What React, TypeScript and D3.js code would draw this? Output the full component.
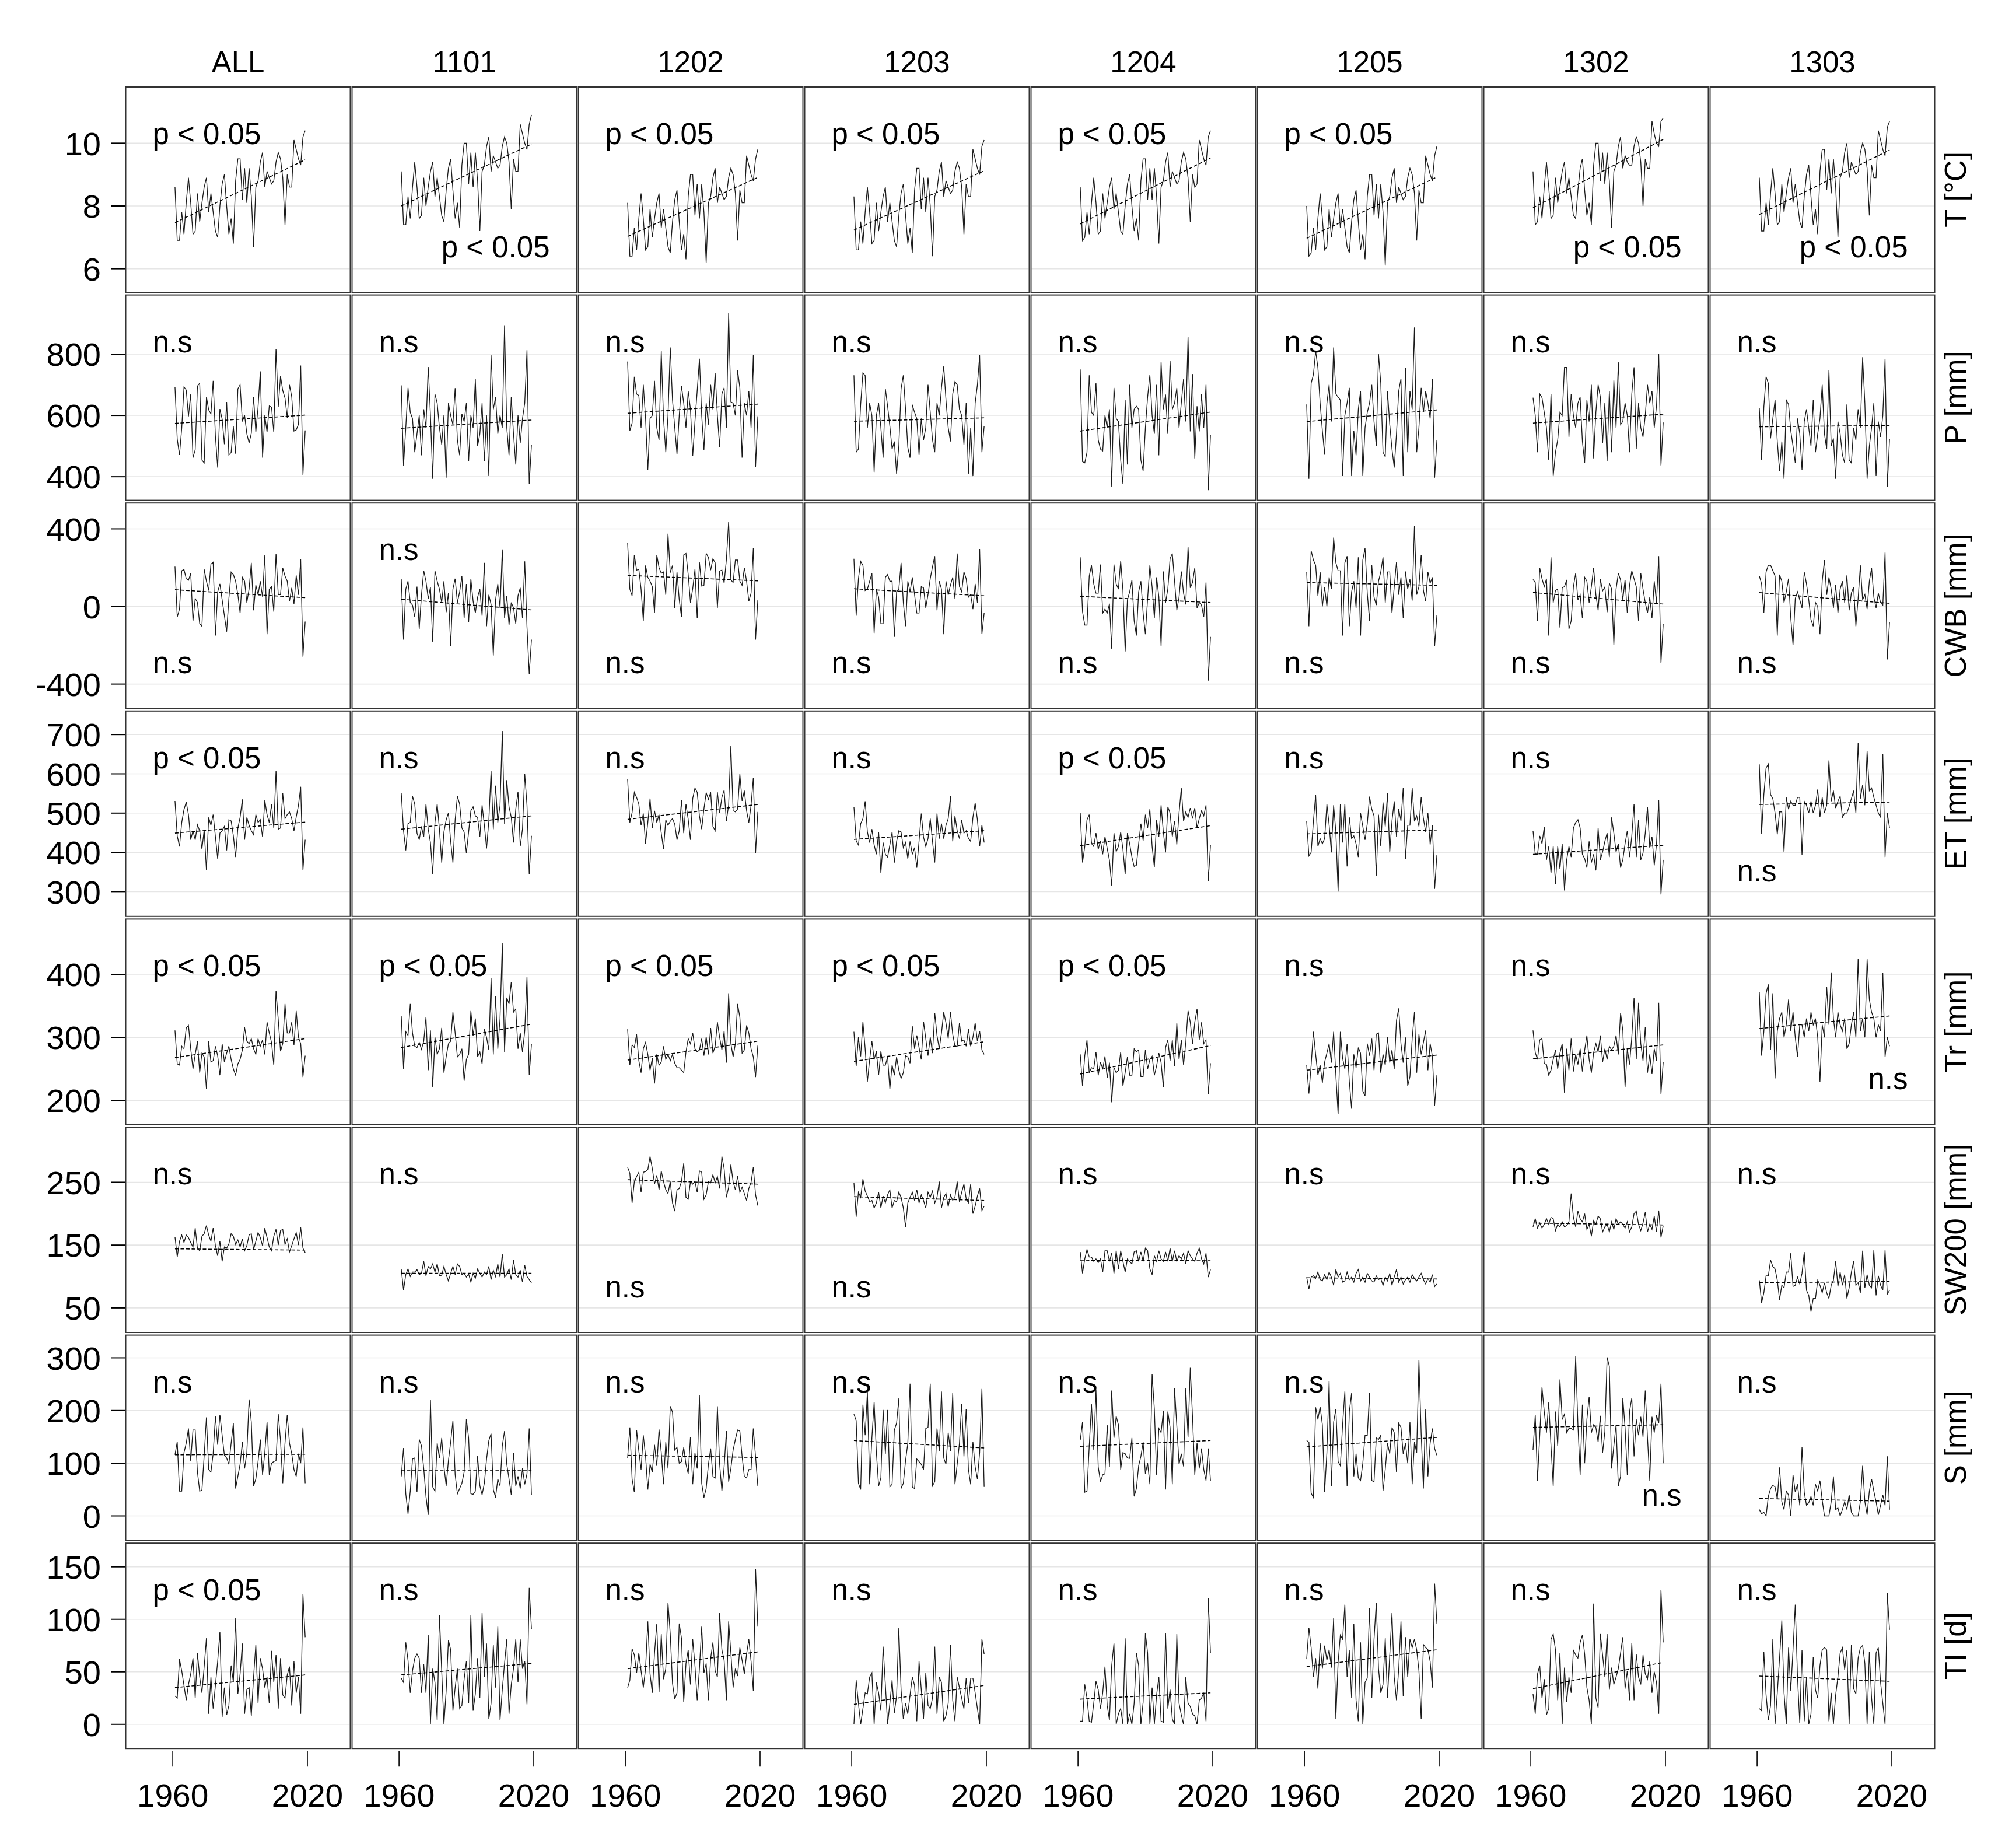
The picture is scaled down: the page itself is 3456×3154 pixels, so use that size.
import React from 'react';
import * as d3 from 'd3';

// ---------------- DATA ----------------
const COLUMNS = ['ALL', '1101', '1202', '1203', '1204', '1205', '1302', '1303'];
const VARIABLES = ['T [°C]', 'P [mm]', 'CWB [mm]', 'ET [mm]', 'Tr [mm]', 'SW200 [mm]', 'S [mm]', 'TI [d]'];
const FIRST_YEAR = 1961;
const X_TICKS = [1960, 2020];

const Y_TICKS = [
  [6, 8, 10],
  [400, 600, 800],
  [-400, 0, 400],
  [300, 400, 500, 600, 700],
  [200, 300, 400],
  [50, 150, 250],
  [0, 100, 200, 300],
  [0, 50, 100, 150],
];
const Y_DOMAINS = [
  [5.25, 11.79],
  [323, 993],
  [-525, 533],
  [237, 760],
  [162, 487.5],
  [10.9, 337.7],
  [-46.6, 343],
  [-23, 172.5],
];

// ---- T [°C]
const T_ALL = [8.6, 6.9, 6.9, 7.8, 7.1, 8.1, 8.9, 8.1, 7.1, 7.2,
  8.4, 7.5, 8.1, 8.6, 8.9, 7.8, 8.4, 7.8, 7.2, 7.0,
  8.0, 8.7, 9.0, 8.0, 7.1, 7.6, 6.8, 8.8, 9.5, 9.5,
  8.2, 9.2, 8.1, 9.2, 8.3, 6.7, 8.6, 8.8, 9.4, 9.7,
  8.6, 9.1, 8.9, 8.7, 8.8, 9.4, 9.7, 9.5, 8.9, 7.4,
  9.0, 8.6, 8.6, 10.1, 9.8, 9.5, 9.3, 10.2, 10.4];
const T_1101 = [9.1, 7.4, 7.4, 8.3, 7.6, 8.6, 9.4, 8.6, 7.6, 7.7,
  8.9, 8.0, 8.6, 9.1, 9.4, 8.3, 8.9, 8.3, 7.7, 7.5,
  8.5, 9.2, 9.5, 8.5, 7.6, 8.1, 7.3, 9.3, 10.0, 10.0,
  8.7, 9.7, 8.6, 9.7, 8.8, 7.2, 9.1, 9.3, 9.9, 10.2,
  9.1, 9.6, 9.4, 9.2, 9.3, 9.9, 10.2, 10.0, 9.4, 7.9,
  9.5, 9.1, 9.1, 10.6, 10.3, 10.0, 9.8, 10.6, 10.9];
const T_1202 = [8.1, 6.4, 6.4, 7.3, 6.6, 7.6, 8.4, 7.6, 6.6, 6.7,
  7.9, 7.0, 7.6, 8.1, 8.4, 7.3, 7.9, 7.3, 6.7, 6.5,
  7.5, 8.2, 8.5, 7.5, 6.6, 7.1, 6.3, 8.3, 9.0, 9.0,
  7.7, 8.7, 7.6, 8.7, 7.8, 6.2, 8.1, 8.3, 8.9, 9.2,
  8.1, 8.6, 8.4, 8.2, 8.3, 8.9, 9.2, 9.0, 8.4, 6.9,
  8.5, 8.1, 8.1, 9.6, 9.3, 9.0, 8.8, 9.5, 9.8];
const T_1203 = [8.3, 6.6, 6.6, 7.5, 6.8, 7.8, 8.6, 7.8, 6.8, 6.9,
  8.1, 7.2, 7.8, 8.3, 8.6, 7.5, 8.1, 7.5, 6.9, 6.7,
  7.7, 8.4, 8.7, 7.7, 6.8, 7.3, 6.5, 8.5, 9.2, 9.2,
  7.9, 8.9, 7.8, 8.9, 8.0, 6.4, 8.3, 8.5, 9.1, 9.4,
  8.3, 8.8, 8.6, 8.4, 8.5, 9.1, 9.4, 9.2, 8.6, 7.1,
  8.7, 8.3, 8.3, 9.8, 9.5, 9.2, 9.0, 9.9, 10.1];
const T_1204 = [8.6, 6.9, 7.0, 7.8, 7.1, 8.1, 8.9, 8.1, 7.1, 7.2,
  8.4, 7.6, 8.1, 8.6, 8.9, 7.9, 8.4, 7.8, 7.2, 7.1,
  8.0, 8.7, 9.0, 8.0, 7.2, 7.6, 6.9, 8.8, 9.5, 9.5,
  8.2, 9.2, 8.2, 9.2, 8.3, 6.8, 8.6, 8.8, 9.4, 9.7,
  8.6, 9.1, 8.9, 8.7, 8.8, 9.4, 9.7, 9.5, 8.9, 7.5,
  9.0, 8.6, 8.7, 10.1, 9.8, 9.5, 9.3, 10.2, 10.4];
const T_1205 = [8.0, 6.4, 6.5, 7.3, 6.6, 7.6, 8.4, 7.6, 6.6, 6.7,
  7.9, 7.0, 7.6, 8.1, 8.4, 7.3, 7.9, 7.3, 6.7, 6.5,
  7.5, 8.2, 8.5, 7.5, 6.6, 7.1, 6.3, 8.3, 9.0, 9.0,
  7.7, 8.7, 7.6, 8.7, 7.8, 6.1, 8.1, 8.3, 8.9, 9.2,
  8.1, 8.6, 8.4, 8.2, 8.3, 8.9, 9.2, 9.0, 8.4, 6.9,
  8.5, 8.1, 8.1, 9.6, 9.3, 9.0, 8.8, 9.6, 9.9];
const T_1302 = [9.1, 7.4, 7.5, 8.3, 7.6, 8.6, 9.4, 8.6, 7.6, 7.7,
  8.9, 8.1, 8.6, 9.1, 9.4, 8.4, 8.9, 8.3, 7.7, 7.6,
  8.5, 9.2, 9.5, 8.5, 7.7, 8.1, 7.4, 9.3, 10.0, 10.0,
  8.8, 9.7, 8.7, 9.7, 8.8, 7.3, 9.1, 9.3, 9.9, 10.2,
  9.2, 9.6, 9.4, 9.3, 9.3, 9.9, 10.2, 10.0, 9.4, 8.0,
  9.5, 9.2, 9.2, 10.7, 10.3, 10.0, 9.9, 10.7, 10.8];
const T_1303 = [8.9, 7.2, 7.2, 8.1, 7.4, 8.4, 9.2, 8.4, 7.4, 7.5,
  8.7, 7.8, 8.4, 8.9, 9.2, 8.1, 8.7, 8.1, 7.5, 7.3,
  8.3, 9.0, 9.3, 8.3, 7.4, 7.9, 7.1, 9.1, 9.8, 9.8,
  8.5, 9.5, 8.4, 9.5, 8.6, 7.0, 8.9, 9.1, 9.7, 10.0,
  8.9, 9.4, 9.2, 9.0, 9.1, 9.7, 10.0, 9.8, 9.2, 7.7,
  9.3, 8.9, 8.9, 10.4, 10.1, 9.8, 9.6, 10.5, 10.7];

// ---- P [mm]
const P_ALL = [693, 523, 471, 558, 693, 683, 597, 670, 462, 488,
  696, 705, 454, 445, 661, 618, 605, 713, 532, 430,
  621, 588, 506, 644, 471, 479, 564, 475, 687, 700,
  580, 601, 540, 510, 542, 661, 545, 627, 744, 462,
  600, 545, 631, 627, 545, 817, 627, 729, 681, 657,
  592, 700, 661, 549, 553, 571, 763, 406, 551];
const P_1101 = [698, 435, 560, 690, 610, 590, 480, 540, 600, 470,
  620, 560, 758, 600, 393, 670, 640, 560, 505, 600,
  397, 640, 600, 570, 689, 520, 470, 605, 580, 640,
  450, 600, 560, 718, 500, 540, 640, 450, 600, 402,
  796, 620, 660, 540, 600, 560, 894, 560, 470, 660,
  540, 440, 600, 510, 590, 640, 813, 376, 504];
const P_1202 = [776, 550, 575, 726, 670, 665, 560, 700, 590, 423,
  590, 600, 713, 560, 520, 810, 590, 480, 600, 822,
  650, 560, 473, 600, 696, 640, 560, 680, 620, 467,
  580, 680, 785, 600, 488, 640, 570, 700, 620, 739,
  600, 497, 670, 690, 560, 934, 644, 640, 600, 748,
  690, 462, 640, 600, 680, 560, 796, 432, 597];
const P_1203 = [731, 480, 490, 636, 739, 730, 560, 640, 600, 415,
  600, 640, 560, 462, 687, 630, 565, 490, 515, 410,
  501, 687, 731, 620, 495, 462, 635, 610, 590, 471,
  590, 520, 560, 700, 610, 520, 480, 640, 600, 690,
  761, 650, 560, 515, 670, 710, 700, 620, 600, 505,
  640, 410, 560, 402, 640, 700, 796, 480, 565];
const P_1204 = [750, 449, 445, 480, 731, 610, 600, 705, 520, 490,
  484, 600, 560, 620, 368, 690, 590, 580, 454, 376,
  650, 440, 700, 560, 620, 630, 620, 454, 419, 560,
  660, 733, 600, 540, 700, 470, 774, 620, 668, 540,
  778, 620, 640, 690, 560, 640, 720, 580, 856, 548,
  735, 460, 630, 548, 670, 560, 700, 356, 536];
const P_1205 = [636, 393, 705, 733, 810, 756, 640, 550, 472, 640,
  700, 580, 822, 670, 660, 650, 402, 600, 640, 690,
  402, 550, 470, 620, 680, 402, 560, 610, 640, 700,
  580, 500, 800, 705, 480, 465, 680, 570, 490, 430,
  540, 680, 720, 402, 756, 480, 680, 620, 887, 480,
  560, 690, 610, 680, 640, 590, 720, 397, 519];
const P_1302 = [658, 600, 480, 670, 658, 610, 560, 454, 670, 402,
  480, 520, 610, 600, 757, 757, 530, 670, 600, 560,
  640, 660, 515, 445, 650, 580, 700, 460, 610, 700,
  660, 510, 640, 450, 680, 480, 714, 560, 774, 570,
  580, 640, 600, 480, 670, 757, 490, 640, 560, 530,
  600, 700, 640, 680, 560, 630, 800, 437, 577];
const P_1303 = [625, 454, 627, 726, 705, 525, 590, 650, 515, 419,
  515, 393, 650, 636, 550, 500, 445, 590, 540, 423,
  580, 620, 560, 500, 650, 480, 540, 590, 700, 540,
  490, 748, 500, 525, 393, 580, 540, 471, 445, 636,
  454, 445, 560, 520, 620, 560, 790, 640, 393, 500,
  560, 640, 402, 580, 530, 600, 784, 367, 523];

// ---- CWB [mm]
const CWB_ALL = [205, -55, -14, 184, 191, 143, 135, 171, -75, 41,
  20, -89, -102, 191, 130, 82, 218, 228, -150, 75,
  116, 34, -48, -130, 41, 177, 164, 130, 61, -34,
  150, 130, 20, 90, 225, -20, 110, 60, 130, 50,
  266, -143, 89, 102, -27, 270, 61, 61, 198, 157,
  130, 27, 96, 14, 160, 60, 242, -259, -78];
const CWB_1101 = [143, -171, 89, 130, 20, 7, -55, 102, -116, 60,
  184, 130, 40, 100, -184, 184, 130, 89, 20, 130,
  -30, 70, -205, 89, 143, 20, 75, 157, -61, 116,
  -82, 143, 27, -34, 48, 89, -48, 225, -102, 60,
  10, -253, 34, 116, -7, 294, -61, 55, -96, 20,
  -7, -89, 55, 96, -61, 232, -105, -348, -171];
const CWB_1202 = [328, 89, 55, 266, 187, 191, 89, -75, 211, 150,
  130, 102, -34, 266, 200, 171, 178, 60, 375, 174,
  211, -7, 178, 34, -55, 266, 273, 164, 20, 91,
  191, -61, 228, 105, 109, 273, 253, 187, 246, 225,
  -7, 182, 187, 120, 240, 437, 137, 123, 239, 239,
  130, 109, 200, 130, 27, 68, 300, -171, 34];
const CWB_1203 = [246, -48, 143, 232, 212, 82, 89, 130, 171, -137,
  89, 48, -89, -89, 150, 164, 130, 130, -157, 75,
  89, 225, 20, -102, 130, 75, 150, 61, -34, -34,
  102, 96, -7, 61, 143, 205, 259, -20, 130, 89,
  -143, 130, 60, 110, 150, 40, 273, 102, 75, 178,
  143, 48, 61, -14, 116, 20, 296, -143, -34];
const CWB_1204 = [253, -27, -96, -96, 157, 212, 116, 68, 68, 216,
  -34, -14, -34, 14, -218, 216, 116, 89, 236, 82,
  -232, 34, 75, 136, -75, -150, 75, 130, -34, -143,
  41, 212, 100, -60, 150, 50, -205, 180, 20, 90,
  246, 273, 130, -20, 48, 180, 68, 10, 307, 96,
  123, 198, -7, 20, 7, -55, 123, -382, -157];
const CWB_1205 = [178, -102, 287, 239, 212, 55, 178, 0, 100, 0,
  150, 90, 355, 225, 184, 184, -150, 225, 259, -102,
  75, 130, -7, 253, -150, 239, 300, 68, -75, 212,
  48, 7, 130, 178, 253, 20, 178, 178, -34, 100,
  230, 60, 150, -60, 180, 90, 140, 30, 416, 61,
  102, 266, 82, 27, 178, 120, 150, -205, -45];
const CWB_1302 = [139, 123, -75, 198, 143, 102, 143, -150, 253, 20,
  82, 89, -109, 96, 102, 137, -116, -75, 102, 171,
  34, 60, -61, 150, 130, 20, 102, 200, 60, -20,
  140, 80, 100, -30, 120, 90, -198, 89, 171, 137,
  34, 137, -34, 109, 184, 143, 102, -75, 171, 89,
  20, -34, 48, -61, 130, 20, 259, -293, -89];
const CWB_1303 = [157, 116, -34, 178, 212, 212, 184, 157, -150, 164,
  130, 20, 75, 143, -61, -198, 41, 75, 34, -7,
  178, 116, 34, -68, -102, 20, 0, -143, 130, 239,
  60, 150, 89, -7, 110, -34, 89, 130, 20, 160,
  -20, 70, 100, -102, 40, 212, 34, 61, -14, 130,
  198, 48, -7, 68, 20, 7, 277, -273, -82];

// ---- ET [mm]
const ET_ALL = [531, 442, 415, 476, 509, 528, 496, 432, 455, 432,
  470, 455, 408, 458, 354, 489, 469, 496, 440, 384,
  449, 455, 466, 405, 483, 480, 442, 388, 462, 489,
  535, 432, 489, 469, 455, 445, 496, 476, 483, 439,
  533, 496, 476, 523, 462, 607, 459, 462, 550, 486,
  496, 503, 486, 455, 490, 520, 567, 354, 432];
const ET_1101 = [551, 455, 405, 473, 476, 543, 523, 449, 432, 466,
  439, 523, 459, 425, 344, 476, 523, 459, 374, 452,
  483, 500, 428, 374, 483, 543, 523, 462, 452, 398,
  452, 506, 516, 493, 489, 440, 520, 470, 410, 480,
  607, 459, 570, 476, 520, 709, 472, 584, 516, 489,
  425, 510, 554, 415, 460, 600, 520, 344, 442];
const ET_1202 = [587, 476, 501, 553, 540, 523, 469, 499, 422, 476,
  537, 462, 506, 476, 496, 449, 408, 483, 469, 479,
  486, 472, 432, 455, 533, 449, 523, 484, 432, 537,
  564, 553, 493, 459, 511, 552, 535, 553, 466, 455,
  553, 500, 540, 558, 480, 520, 672, 506, 503, 510,
  600, 531, 557, 506, 476, 520, 590, 398, 503];
const ET_1203 = [516, 429, 419, 473, 486, 530, 452, 425, 459, 419,
  395, 452, 347, 425, 395, 388, 419, 452, 374, 428,
  455, 452, 412, 425, 384, 428, 395, 412, 361, 428,
  499, 439, 415, 435, 486, 428, 374, 499, 435, 473,
  435, 469, 486, 543, 428, 493, 455, 435, 483, 449,
  455, 435, 428, 489, 526, 483, 415, 470, 425];
const ET_1204 = [501, 374, 415, 483, 496, 425, 415, 449, 408, 429,
  395, 440, 410, 380, 315, 449, 402, 415, 452, 408,
  344, 449, 422, 388, 364, 367, 422, 473, 430, 496,
  462, 510, 415, 362, 483, 440, 520, 452, 400, 516,
  500, 440, 480, 420, 500, 564, 479, 503, 489, 513,
  486, 513, 462, 486, 506, 493, 520, 327, 418];
const ET_1205 = [479, 391, 400, 479, 547, 415, 435, 422, 435, 523,
  470, 400, 520, 452, 300, 523, 425, 523, 364, 489,
  435, 442, 422, 388, 500, 466, 432, 473, 542, 510,
  493, 340, 496, 415, 527, 466, 550, 400, 480, 530,
  440, 510, 480, 564, 384, 469, 469, 564, 479, 493,
  466, 540, 486, 452, 500, 420, 470, 307, 394];
const ET_1302 = [455, 395, 395, 442, 422, 465, 381, 415, 347, 415,
  320, 415, 357, 422, 303, 381, 415, 388, 462, 476,
  483, 462, 395, 384, 361, 428, 374, 395, 354, 462,
  381, 401, 428, 449, 388, 489, 449, 401, 422, 361,
  381, 422, 455, 388, 442, 523, 388, 483, 381, 398,
  449, 516, 412, 440, 367, 420, 533, 293, 381];
const ET_1303 = [624, 447, 547, 615, 625, 547, 537, 500, 446, 503,
  503, 401, 540, 510, 530, 520, 520, 540, 540, 394,
  530, 520, 500, 530, 500, 520, 560, 490, 540, 500,
  520, 634, 530, 557, 513, 530, 543, 489, 500, 500,
  517, 537, 557, 500, 678, 537, 572, 520, 658, 557,
  564, 540, 520, 500, 490, 651, 388, 500, 462];

// ---- Tr [mm]
const TR_ALL = [311, 258, 256, 286, 282, 315, 319, 282, 250, 273,
  294, 244, 275, 269, 218, 294, 261, 263, 286, 271,
  240, 290, 261, 275, 286, 265, 250, 240, 258, 265,
  280, 316, 294, 290, 298, 282, 273, 298, 286, 296,
  273, 324, 307, 292, 256, 374, 328, 278, 290, 353,
  307, 307, 324, 288, 342, 300, 290, 237, 271];
const TR_1101 = [334, 250, 309, 303, 353, 307, 286, 284, 292, 281,
  294, 332, 248, 311, 221, 300, 273, 282, 315, 244,
  269, 290, 294, 340, 307, 269, 273, 282, 231, 265,
  273, 342, 303, 330, 269, 277, 258, 313, 300, 280,
  394, 273, 365, 282, 330, 449, 277, 363, 353, 388,
  340, 345, 282, 307, 277, 310, 396, 240, 289];
const TR_1202 = [313, 256, 288, 284, 305, 263, 244, 282, 292, 273,
  248, 267, 227, 273, 256, 261, 286, 265, 273, 263,
  273, 259, 252, 252, 248, 244, 277, 298, 290, 307,
  282, 277, 280, 298, 271, 301, 273, 315, 275, 286,
  324, 300, 280, 310, 260, 370, 290, 269, 290, 353,
  332, 275, 280, 319, 307, 282, 269, 237, 287];
const TR_1203 = [309, 254, 300, 270, 325, 282, 230, 265, 294, 265,
  278, 240, 278, 256, 256, 269, 218, 256, 240, 269,
  248, 235, 244, 271, 269, 259, 318, 282, 303, 284,
  265, 325, 298, 271, 300, 275, 339, 303, 282, 307,
  340, 323, 298, 340, 305, 286, 286, 323, 294, 296,
  286, 313, 286, 300, 323, 294, 310, 280, 273];
const TR_1204 = [273, 223, 271, 296, 244, 252, 250, 277, 240, 261,
  250, 270, 236, 260, 197, 252, 244, 248, 277, 223,
  244, 269, 240, 240, 282, 277, 280, 238, 238, 280,
  250, 265, 270, 240, 255, 275, 260, 221, 284, 296,
  263, 296, 254, 323, 265, 296, 256, 292, 342, 324,
  290, 324, 345, 296, 324, 290, 296, 210, 259];
const TR_1205 = [256, 211, 256, 309, 273, 240, 256, 228, 261, 275,
  290, 260, 309, 240, 178, 309, 267, 250, 290, 230,
  187, 273, 252, 284, 275, 215, 207, 290, 271, 298,
  248, 305, 307, 244, 273, 256, 300, 260, 280, 250,
  327, 346, 290, 260, 300, 223, 238, 298, 340, 244,
  305, 273, 292, 311, 248, 290, 270, 192, 240];
const TR_1302 = [311, 276, 265, 296, 298, 259, 257, 240, 248, 265,
  280, 250, 275, 290, 212, 282, 248, 298, 246, 273,
  257, 282, 246, 280, 303, 265, 244, 276, 290, 277,
  303, 261, 282, 265, 286, 280, 286, 303, 273, 339,
  311, 221, 282, 257, 300, 363, 265, 355, 290, 263,
  316, 244, 273, 242, 282, 263, 355, 210, 261];
const TR_1303 = [372, 271, 309, 370, 384, 280, 370, 235, 310, 330,
  340, 300, 320, 360, 310, 340, 300, 269, 320, 320,
  300, 330, 310, 340, 320, 330, 300, 230, 320, 300,
  380, 320, 403, 330, 300, 340, 320, 310, 330, 282,
  290, 320, 340, 300, 424, 310, 330, 300, 424, 360,
  340, 330, 300, 320, 310, 402, 269, 300, 286];

// ---- SW200 [mm]
const SW_ALL = [163, 131, 156, 166, 154, 166, 162, 154, 147, 177,
  145, 141, 164, 168, 181, 166, 156, 177, 149, 133,
  156, 124, 147, 145, 152, 168, 164, 151, 158, 147,
  160, 141, 149, 166, 168, 143, 156, 170, 162, 149,
  177, 162, 147, 141, 164, 175, 150, 173, 175, 151,
  160, 139, 149, 160, 170, 150, 178, 145, 138];
const SW_1101 = [112, 78, 103, 112, 100, 107, 107, 111, 103, 105,
  124, 101, 116, 112, 120, 107, 120, 101, 102, 116,
  103, 93, 105, 116, 103, 120, 116, 103, 105, 99,
  104, 91, 105, 97, 112, 105, 99, 107, 103, 116,
  95, 110, 100, 120, 99, 136, 99, 103, 112, 95,
  126, 103, 99, 110, 91, 118, 100, 95, 90];
const SW_1202 = [274, 264, 217, 251, 259, 266, 234, 266, 267, 270,
  291, 272, 247, 261, 238, 268, 251, 238, 232, 251,
  217, 204, 238, 240, 251, 280, 226, 223, 251, 247,
  251, 234, 268, 266, 223, 230, 251, 249, 262, 249,
  259, 240, 291, 272, 226, 242, 278, 251, 238, 260,
  234, 242, 232, 221, 240, 250, 274, 230, 213];
const SW_1203 = [249, 195, 234, 226, 255, 236, 228, 219, 221, 209,
  217, 234, 209, 228, 217, 230, 238, 209, 221, 219,
  234, 226, 209, 178, 217, 226, 234, 221, 238, 217,
  230, 221, 209, 234, 226, 236, 217, 226, 251, 209,
  226, 232, 211, 230, 221, 226, 251, 219, 234, 247,
  224, 217, 247, 200, 212, 228, 240, 205, 212];
const SW_1204 = [139, 105, 128, 143, 131, 131, 124, 128, 122, 128,
  107, 141, 141, 124, 137, 105, 141, 112, 141, 124,
  107, 128, 124, 120, 139, 141, 124, 139, 124, 145,
  141, 112, 103, 133, 124, 141, 128, 124, 139, 124,
  145, 124, 141, 124, 133, 128, 137, 120, 141, 133,
  128, 124, 137, 145, 128, 120, 137, 99, 111];
const SW_1205 = [99, 80, 99, 101, 97, 107, 95, 93, 103, 95,
  107, 99, 86, 111, 99, 105, 91, 93, 107, 95,
  99, 91, 105, 111, 93, 99, 91, 105, 99, 93,
  91, 101, 95, 97, 86, 99, 93, 105, 86, 99,
  111, 91, 99, 88, 95, 99, 91, 103, 97, 93,
  99, 105, 95, 88, 97, 91, 103, 84, 88];
const SW_1302 = [179, 192, 177, 185, 177, 183, 192, 183, 194, 192,
  173, 183, 179, 187, 179, 181, 187, 232, 194, 179,
  204, 192, 187, 200, 175, 183, 164, 189, 183, 196,
  192, 171, 179, 183, 171, 187, 175, 192, 183, 187,
  183, 177, 187, 171, 179, 200, 204, 183, 173, 185,
  202, 171, 183, 175, 196, 171, 205, 162, 181];
const SW_1303 = [94, 58, 74, 101, 101, 126, 116, 112, 94, 63,
  86, 82, 107, 107, 137, 84, 86, 99, 88, 105,
  139, 78, 70, 44, 65, 65, 94, 86, 74, 90,
  74, 65, 86, 94, 124, 84, 107, 86, 103, 65,
  82, 107, 124, 86, 90, 74, 141, 82, 103, 86,
  82, 142, 70, 101, 86, 78, 142, 72, 78];

// ---- S [mm]
const S_ALL = [116, 141, 47, 47, 120, 138, 166, 104, 163, 163,
  83, 47, 49, 115, 187, 88, 83, 118, 189, 135,
  192, 153, 115, 110, 98, 138, 176, 52, 75, 98,
  140, 90, 120, 221, 178, 57, 70, 103, 145, 78,
  120, 178, 78, 100, 103, 105, 193, 143, 62, 138,
  192, 138, 118, 88, 75, 118, 100, 168, 62];
const S_1101 = [75, 129, 42, 4, 47, 108, 110, 45, 145, 133,
  90, 37, 2, 220, 55, 47, 138, 109, 148, 94,
  57, 105, 140, 181, 78, 42, 52, 62, 83, 184,
  148, 42, 41, 47, 114, 57, 40, 62, 108, 143,
  156, 50, 35, 70, 57, 133, 161, 98, 70, 40,
  120, 57, 75, 52, 90, 60, 80, 166, 40];
const S_1202 = [110, 168, 70, 45, 163, 123, 88, 153, 113, 50,
  98, 83, 135, 95, 164, 120, 60, 140, 90, 208,
  197, 125, 130, 100, 103, 130, 98, 80, 150, 60,
  120, 90, 229, 62, 35, 52, 98, 128, 75, 72,
  208, 98, 47, 93, 161, 65, 90, 125, 145, 163,
  161, 113, 75, 72, 88, 88, 166, 112, 57];
const S_1203 = [193, 181, 62, 50, 211, 153, 236, 60, 148, 216,
  120, 57, 72, 201, 118, 201, 55, 60, 163, 176,
  223, 52, 62, 105, 138, 251, 55, 52, 108, 103,
  98, 88, 166, 168, 251, 57, 65, 166, 123, 236,
  110, 98, 158, 123, 233, 60, 98, 138, 213, 113,
  203, 88, 60, 140, 93, 70, 120, 241, 55];
const S_1204 = [144, 178, 45, 47, 133, 212, 125, 239, 93, 65,
  78, 80, 173, 93, 238, 148, 189, 173, 88, 120,
  118, 110, 109, 148, 37, 52, 95, 113, 140, 80,
  100, 60, 269, 203, 78, 166, 158, 199, 50, 198,
  168, 60, 243, 171, 98, 118, 94, 243, 150, 281,
  188, 78, 138, 90, 128, 88, 67, 128, 67];
const S_1205 = [143, 140, 43, 35, 206, 183, 207, 173, 45, 120,
  256, 57, 178, 203, 103, 95, 173, 236, 57, 198,
  233, 75, 118, 72, 67, 100, 153, 153, 234, 67,
  65, 148, 145, 153, 47, 88, 138, 118, 168, 158,
  83, 176, 168, 118, 138, 100, 178, 60, 140, 120,
  296, 156, 52, 203, 75, 138, 166, 128, 115];
const S_1302 = [125, 192, 67, 153, 244, 198, 158, 216, 133, 57,
  198, 133, 259, 183, 193, 158, 166, 166, 163, 303,
  173, 78, 211, 100, 183, 226, 158, 173, 168, 140,
  190, 120, 160, 301, 284, 90, 133, 173, 57, 75,
  224, 168, 78, 198, 224, 113, 183, 153, 188, 150,
  238, 148, 67, 188, 158, 191, 176, 251, 100];
const S_1303 = [12, 4, 7, 0, 37, 52, 58, 55, 32, 92,
  27, 12, 47, 40, 0, 78, 45, 60, 20, 130,
  45, 20, 25, 37, 20, 60, 47, 67, 30, 0,
  0, 0, 27, 75, 12, 15, 0, 12, 27, 12,
  40, 7, 0, 0, 0, 27, 95, 27, 2, 47,
  70, 47, 27, 2, 20, 40, 20, 113, 12];

// ---- TI [d]
const TI_ALL = [27, 25, 62, 51, 37, 23, 38, 48, 63, 25,
  68, 45, 30, 55, 82, 10, 45, 15, 37, 60,
  88, 7, 35, 9, 18, 56, 40, 101, 29, 48,
  77, 10, 33, 35, 8, 45, 76, 20, 63, 53,
  35, 45, 20, 70, 40, 66, 15, 63, 28, 25,
  47, 55, 18, 60, 30, 45, 10, 124, 83];
const TI_1101 = [44, 40, 78, 61, 30, 51, 63, 67, 63, 30,
  57, 30, 85, 0, 53, 40, 4, 104, 51, 0,
  32, 80, 71, 13, 35, 53, 15, 18, 43, 60,
  20, 104, 13, 29, 63, 25, 106, 45, 77, 5,
  20, 76, 35, 93, 4, 33, 58, 81, 10, 38,
  53, 81, 40, 81, 53, 60, 19, 130, 91];
const TI_1202 = [35, 42, 72, 66, 49, 68, 51, 35, 53, 98,
  48, 30, 68, 96, 31, 86, 43, 53, 116, 86,
  39, 24, 30, 96, 82, 21, 58, 71, 38, 81,
  56, 23, 53, 93, 49, 58, 23, 63, 78, 51,
  45, 106, 71, 61, 23, 98, 68, 35, 53, 46,
  73, 61, 48, 67, 81, 60, 32, 148, 93];
const TI_1203 = [0, 42, 20, 0, 15, 30, 29, 45, 49, 0,
  40, 30, 13, 74, 38, 0, 20, 42, 11, 27,
  92, 33, 5, 20, 10, 28, 45, 37, 3, 60,
  33, 5, 49, 18, 15, 25, 74, 10, 45, 40,
  3, 8, 20, 76, 23, 3, 45, 35, 25, 15,
  44, 20, 44, 44, 30, 15, 0, 81, 67];
const TI_1204 = [3, 3, 38, 25, 3, 2, 20, 41, 33, 15,
  30, 55, 18, 4, 56, 77, 0, 10, 15, 0,
  82, 0, 10, 0, 20, 68, 56, 0, 21, 87,
  68, 0, 35, 0, 28, 45, 3, 2, 87, 15,
  33, 5, 0, 86, 20, 9, 0, 45, 20, 17,
  10, 8, 0, 23, 25, 30, 3, 120, 68];
const TI_1205 = [62, 92, 73, 45, 63, 34, 77, 53, 75, 61,
  71, 54, 101, 5, 59, 85, 81, 114, 45, 71,
  25, 96, 23, 3, 78, 0, 40, 44, 111, 25,
  81, 116, 53, 30, 38, 82, 25, 66, 106, 45,
  23, 53, 98, 27, 83, 45, 81, 73, 81, 71,
  51, 5, 76, 73, 71, 60, 35, 134, 96];
const TI_1302 = [29, 10, 48, 56, 25, 43, 9, 15, 81, 86,
  71, 23, 68, 0, 54, 21, 45, 30, 71, 66,
  63, 78, 85, 67, 35, 23, 0, 115, 25, 16,
  86, 66, 45, 86, 33, 54, 38, 45, 53, 68,
  83, 34, 51, 23, 77, 23, 67, 45, 38, 66,
  48, 43, 60, 30, 50, 40, 10, 128, 78];
const TI_1303 = [15, 13, 69, 28, 4, 18, 81, 0, 30, 63,
  99, 30, 0, 73, 32, 71, 114, 45, 1, 71,
  3, 45, 0, 10, 64, 33, 25, 56, 71, 73,
  71, 3, 30, 0, 28, 45, 68, 73, 52, 71,
  0, 76, 34, 29, 63, 73, 75, 58, 0, 69,
  25, 0, 68, 73, 40, 20, 0, 125, 90];

// ---- trend lines (value at 1961, value at 2019)
const T_TREND_START = [7.47, 8.0, 7.03, 7.23, 7.43, 6.97, 7.94, 7.73];
const T_TREND_END = [9.47, 9.97, 8.91, 9.12, 9.53, 8.92, 10.12, 9.78];
const P_TREND_START = [574, 558, 607, 581, 549, 580, 575, 563];
const P_TREND_END = [601, 585, 637, 592, 611, 618, 604, 567];
const CWB_TREND_START = [86, 37, 160, 91, 52, 123, 72, 71];
const CWB_TREND_END = [45, -18, 132, 55, 20, 109, 12, 16];
const ET_TREND_START = [449, 459, 484, 433, 417, 447, 395, 522];
const ET_TREND_END = [477, 493, 522, 455, 468, 457, 418, 528];
const TR_TREND_START = [268, 284, 264, 262, 242, 248, 266, 314];
const TR_TREND_END = [298, 321, 294, 293, 287, 272, 288, 334];
const SW_TREND_START = [144, 105, 254, 227, 126, 98, 185, 90];
const SW_TREND_END = [142, 105, 247, 221, 125, 96, 182, 92];
const S_TREND_START = [116, 87, 115, 143, 132, 131, 168, 33];
const S_TREND_END = [117, 87, 111, 129, 143, 149, 173, 28];
const TI_TREND_START = [35, 47, 53, 19, 24, 55, 34, 46];
const TI_TREND_END = [47, 58, 69, 37, 30, 71, 59, 41];

// ---- significance labels
const T_SIG = ['p < 0.05', 'p < 0.05', 'p < 0.05', 'p < 0.05', 'p < 0.05', 'p < 0.05', 'p < 0.05', 'p < 0.05'];
const P_SIG = ['n.s', 'n.s', 'n.s', 'n.s', 'n.s', 'n.s', 'n.s', 'n.s'];
const CWB_SIG = ['n.s', 'n.s', 'n.s', 'n.s', 'n.s', 'n.s', 'n.s', 'n.s'];
const ET_SIG = ['p < 0.05', 'n.s', 'n.s', 'n.s', 'p < 0.05', 'n.s', 'n.s', 'n.s'];
const TR_SIG = ['p < 0.05', 'p < 0.05', 'p < 0.05', 'p < 0.05', 'p < 0.05', 'n.s', 'n.s', 'n.s'];
const SW_SIG = ['n.s', 'n.s', 'n.s', 'n.s', 'n.s', 'n.s', 'n.s', 'n.s'];
const S_SIG = ['n.s', 'n.s', 'n.s', 'n.s', 'n.s', 'n.s', 'n.s', 'n.s'];
const TI_SIG = ['p < 0.05', 'n.s', 'n.s', 'n.s', 'n.s', 'n.s', 'n.s', 'n.s'];

// ---------------- LAYOUT ----------------
// label corner: tl = top-left, bl = bottom-left, br = bottom-right
const LABEL_CORNER = [
  ['tl', 'br', 'tl', 'tl', 'tl', 'tl', 'br', 'br'],
  ['tl', 'tl', 'tl', 'tl', 'tl', 'tl', 'tl', 'tl'],
  ['bl', 'tl', 'bl', 'bl', 'bl', 'bl', 'bl', 'bl'],
  ['tl', 'tl', 'tl', 'tl', 'tl', 'tl', 'tl', 'bl'],
  ['tl', 'tl', 'tl', 'tl', 'tl', 'tl', 'tl', 'br'],
  ['tl', 'tl', 'bl', 'bl', 'tl', 'tl', 'tl', 'tl'],
  ['tl', 'tl', 'tl', 'tl', 'tl', 'tl', 'br', 'tl'],
  ['tl', 'tl', 'tl', 'tl', 'tl', 'tl', 'tl', 'tl'],
];

const ROWS = [
  { series: [T_ALL, T_1101, T_1202, T_1203, T_1204, T_1205, T_1302, T_1303], ts: T_TREND_START, te: T_TREND_END, sig: T_SIG },
  { series: [P_ALL, P_1101, P_1202, P_1203, P_1204, P_1205, P_1302, P_1303], ts: P_TREND_START, te: P_TREND_END, sig: P_SIG },
  { series: [CWB_ALL, CWB_1101, CWB_1202, CWB_1203, CWB_1204, CWB_1205, CWB_1302, CWB_1303], ts: CWB_TREND_START, te: CWB_TREND_END, sig: CWB_SIG },
  { series: [ET_ALL, ET_1101, ET_1202, ET_1203, ET_1204, ET_1205, ET_1302, ET_1303], ts: ET_TREND_START, te: ET_TREND_END, sig: ET_SIG },
  { series: [TR_ALL, TR_1101, TR_1202, TR_1203, TR_1204, TR_1205, TR_1302, TR_1303], ts: TR_TREND_START, te: TR_TREND_END, sig: TR_SIG },
  { series: [SW_ALL, SW_1101, SW_1202, SW_1203, SW_1204, SW_1205, SW_1302, SW_1303], ts: SW_TREND_START, te: SW_TREND_END, sig: SW_SIG },
  { series: [S_ALL, S_1101, S_1202, S_1203, S_1204, S_1205, S_1302, S_1303], ts: S_TREND_START, te: S_TREND_END, sig: S_SIG },
  { series: [TI_ALL, TI_1101, TI_1202, TI_1203, TI_1204, TI_1205, TI_1302, TI_1303], ts: TI_TREND_START, te: TI_TREND_END, sig: TI_SIG },
];

const W = 3456;
const H = 3154;
const COL_X0 = 215.5;
const COL_STEP = 388;
const COL_W = 385;
const ROW_Y0 = 149;
const ROW_STEP = 356.6;
const ROW_H = 352;
const FONT = "'Liberation Sans', Arial, Helvetica, sans-serif";

export default function App() {
  const nRows = ROWS.length;
  const lastRowBottom = ROW_Y0 + (nRows - 1) * ROW_STEP + ROW_H;

  const elements: React.ReactNode[] = [];

  // column headers
  COLUMNS.forEach((c, j) => {
    const left = COL_X0 + j * COL_STEP;
    elements.push(
      <text key={`h${j}`} x={left + COL_W / 2} y={124} textAnchor="middle" fontSize={51} fill="#000">
        {c}
      </text>
    );
  });

  ROWS.forEach((row, i) => {
    const top = ROW_Y0 + i * ROW_STEP;
    const bottom = top + ROW_H;
    const y = d3.scaleLinear().domain(Y_DOMAINS[i]).range([bottom, top]);

    // strip label on the right
    elements.push(
      <text
        key={`s${i}`}
        transform={`translate(3370, ${(top + bottom) / 2}) rotate(-90)`}
        textAnchor="middle"
        fontSize={51}
        fill="#000"
      >
        {VARIABLES[i]}
      </text>
    );

    // y axis on the left
    Y_TICKS[i].forEach((t, k) => {
      const yy = y(t);
      elements.push(
        <line key={`yt${i}-${k}`} x1={190} x2={COL_X0} y1={yy} y2={yy} stroke="#000" strokeWidth={2} />
      );
      elements.push(
        <text key={`yl${i}-${k}`} x={173} y={yy} dy="0.36em" textAnchor="end" fontSize={56} fill="#000">
          {String(t)}
        </text>
      );
    });

    COLUMNS.forEach((c, j) => {
      const left = COL_X0 + j * COL_STEP;
      const right = left + COL_W;
      const x = d3.scaleLinear().domain([1960, 2020]).range([left + 80.6, left + 311.5]);
      const series = row.series[j];
      const lineGen = d3
        .line<number>()
        .x((_, k) => x(FIRST_YEAR + k))
        .y((d) => y(d));
      const lastYear = FIRST_YEAR + series.length - 1;

      // gridlines
      Y_TICKS[i].forEach((t, k) => {
        elements.push(
          <line
            key={`g${i}-${j}-${k}`}
            x1={left + 1}
            x2={right - 1}
            y1={y(t)}
            y2={y(t)}
            stroke="#e6e6e6"
            strokeWidth={1.6}
          />
        );
      });

      // data line
      elements.push(
        <path key={`d${i}-${j}`} d={lineGen(series) || ''} fill="none" stroke="#1a1a1a" strokeWidth={1.35} strokeLinejoin="miter" />
      );

      // trend line
      elements.push(
        <line
          key={`tr${i}-${j}`}
          x1={x(FIRST_YEAR)}
          x2={x(lastYear)}
          y1={y(row.ts[j])}
          y2={y(row.te[j])}
          stroke="#000"
          strokeWidth={1.6}
          strokeDasharray="6,3.5"
        />
      );

      // panel border
      elements.push(
        <rect key={`b${i}-${j}`} x={left} y={top} width={COL_W} height={ROW_H} fill="none" stroke="#333" strokeWidth={2} />
      );

      // significance label
      const corner = LABEL_CORNER[i][j];
      const lx = corner === 'br' ? right - 46 : left + 46;
      const ly = corner === 'tl' ? top + 98 : top + 292;
      elements.push(
        <text
          key={`a${i}-${j}`}
          x={lx}
          y={ly}
          textAnchor={corner === 'br' ? 'end' : 'start'}
          fontSize={51}
          fill="#000"
        >
          {row.sig[j]}
        </text>
      );

      // x axis at bottom row
      if (i === nRows - 1) {
        X_TICKS.forEach((yr, k) => {
          const xx = x(yr);
          elements.push(
            <line key={`xt${j}-${k}`} x1={xx} x2={xx} y1={lastRowBottom + 4} y2={lastRowBottom + 31} stroke="#000" strokeWidth={1.6} />
          );
          elements.push(
            <text key={`xl${j}-${k}`} x={xx} y={3097} textAnchor="middle" fontSize={55} fill="#000">
              {String(yr)}
            </text>
          );
        });
      }
    });
  });

  return (
    <div style={{ position: 'absolute', left: 0, top: 0, width: W, height: H, background: '#fff' }}>
      <svg width={W} height={H} viewBox={`0 0 ${W} ${H}`} style={{ display: 'block' }} fontFamily={FONT}>
        <rect x={0} y={0} width={W} height={H} fill="#fff" />
        {elements}
      </svg>
    </div>
  );
}
